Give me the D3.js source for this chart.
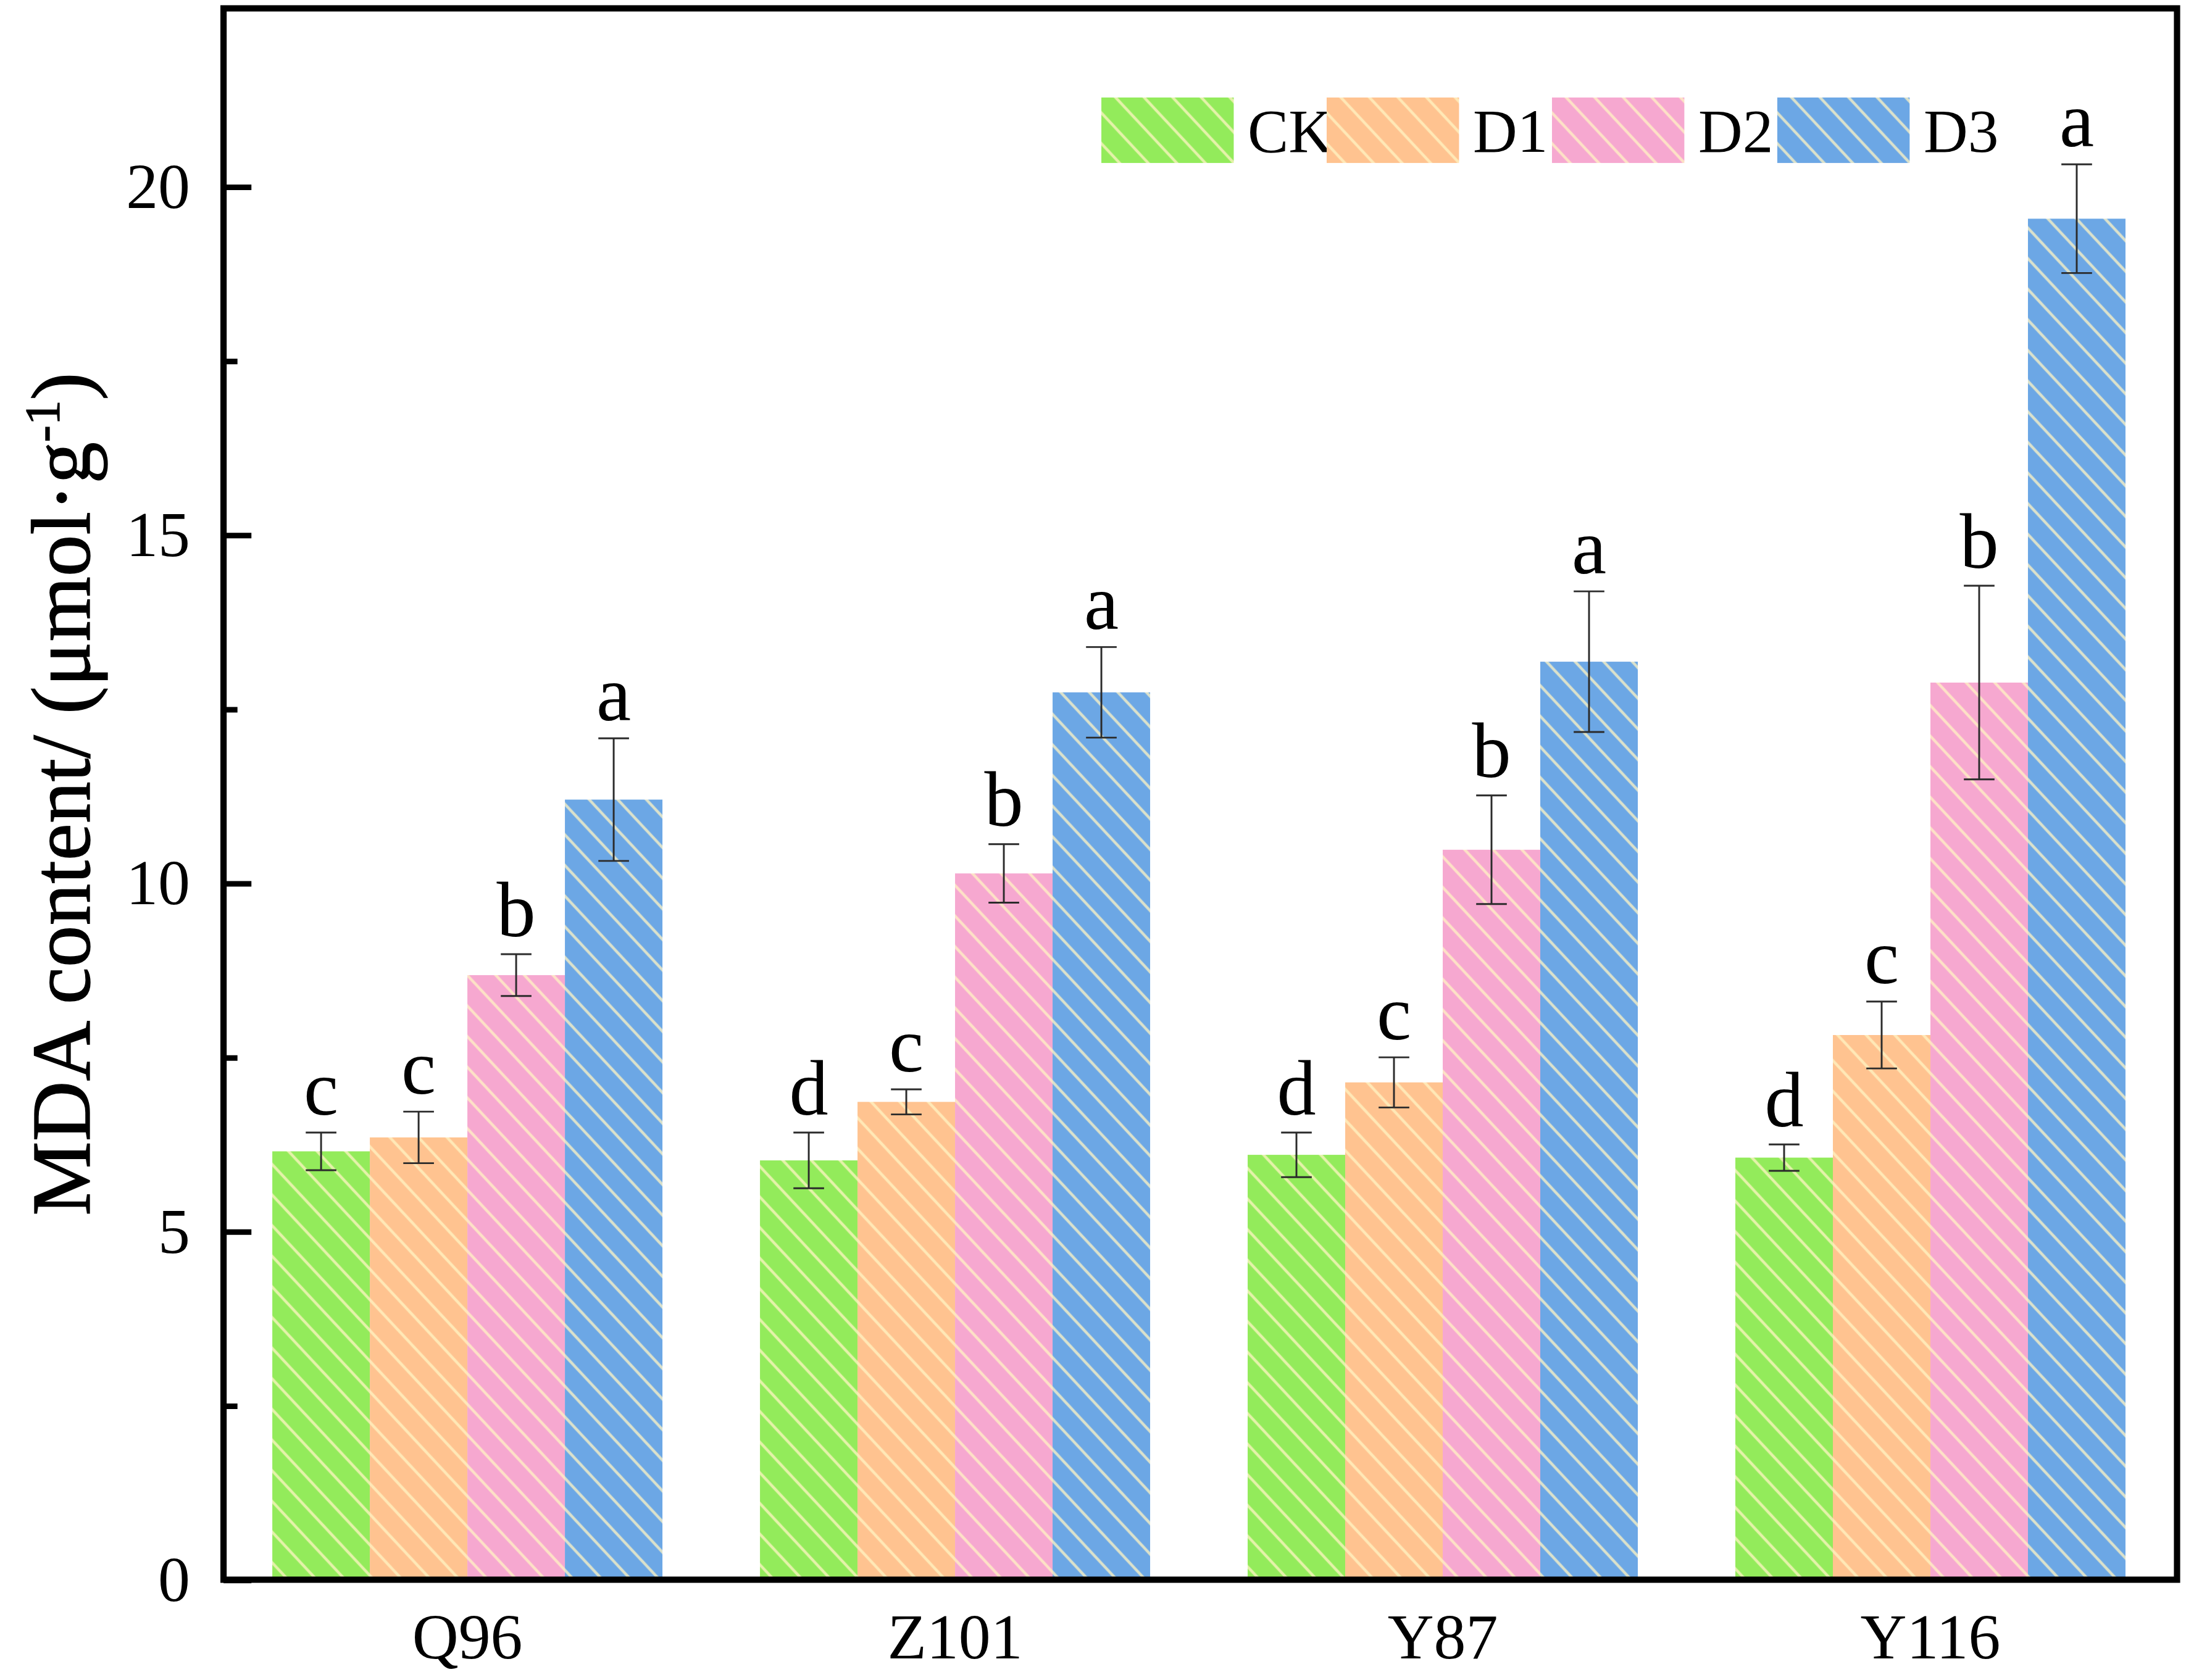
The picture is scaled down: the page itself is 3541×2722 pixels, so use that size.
<!DOCTYPE html>
<html lang="en">
<head>
    <meta charset="UTF-8">
    <title>MDA content</title>
    <script src="https://cdn.jsdelivr.net/npm/d3@7"></script>
    <style>
        body { margin: 0; background: #fff; }
        svg { display: block; }
    </style>
</head>
<body>
<script>
    // data
    let groups = ["Q96", "Z101", "Y87", "Y116"];
    let treatments = ["CK", "D1", "D2", "D3"];
    let meanCK = [6.15, 6.02, 6.10, 6.06];
    let meanD1 = [6.35, 6.86, 7.14, 7.82];
    let meanD2 = [8.68, 10.14, 10.48, 12.88];
    let meanD3 = [11.20, 12.74, 13.18, 19.54];
    let errCK = [0.27, 0.40, 0.32, 0.19];
    let errD1 = [0.37, 0.18, 0.36, 0.48];
    let errD2 = [0.30, 0.42, 0.78, 1.39];
    let errD3 = [0.88, 0.65, 1.01, 0.78];
    let letterCK = ["c", "d", "d", "d"];
    let letterD1 = ["c", "c", "c", "c"];
    let letterD2 = ["b", "b", "b", "b"];
    let letterD3 = ["a", "a", "a", "a"];
    let majorTicks = [0, 5, 10, 15, 20];
    let minorTicks = [2.5, 7.5, 12.5, 17.5];

    let colors = {CK: "#93eb5b", D1: "#ffc390", D2: "#f6a8d0", D3: "#6ca7e5"};

    let means = [meanCK, meanD1, meanD2, meanD3];
    let errs = [errCK, errD1, errD2, errD3];
    let letters = [letterCK, letterD1, letterD2, letterD3];

    // flat table for the bars
    let rows = [];
    groups.forEach(function (g, gi) {
        treatments.forEach(function (t, ti) {
            rows.push({group: g, trt: t, v: means[ti][gi], e: errs[ti][gi], l: letters[ti][gi]});
        });
    });

    let W = 1568, H = 1206;
    let mLeft = 160, mRight = 1562, mTop = 6, mBottom = 1134;
    let font = "'Liberation Serif', 'Times New Roman', serif";

    let svg = d3.select('body').append('svg')
        .attr('width', 3541)
        .attr('height', 2722)
        .attr('viewBox', "0 0 " + W + " " + H);

    // hatch patterns
    let defs = svg.append('defs');
    treatments.forEach(function (t) {
        let p = defs.append('pattern')
            .attr('id', 'hatch-' + t)
            .attr('patternUnits', 'userSpaceOnUse')
            .attr('width', 10)
            .attr('height', 15)
            .attr('patternTransform', 'rotate(47)');
        p.append('rect').attr('width', 10).attr('height', 15).attr('fill', colors[t]);
        p.append('line')
            .attr('x1', -1).attr('x2', 11)
            .attr('y1', 7.5).attr('y2', 7.5)
            .attr('stroke', '#fff4c2')
            .attr('stroke-opacity', 0.75)
            .attr('stroke-width', 2);
    });

    let x0 = d3.scaleBand()
        .domain(groups)
        .range([mLeft, 1560])
        .paddingInner(0.2)
        .paddingOuter(0.1);
    let x1 = d3.scaleBand()
        .domain(treatments)
        .range([0, x0.bandwidth()]);
    let y = d3.scaleLinear()
        .domain([0, 22.56])
        .range([mBottom, mTop]);

    // bars
    svg.append('g').selectAll('rect').data(rows)
        .enter()
        .append('rect')
        .attr('x', function (d) { return x0(d.group) + x1(d.trt); })
        .attr('y', function (d) { return y(d.v); })
        .attr('width', x1.bandwidth())
        .attr('height', function (d) { return y(0) - y(d.v); })
        .attr('fill', function (d) { return 'url(#hatch-' + d.trt + ')'; });

    // error bars
    let eb = svg.append('g')
        .attr('stroke', '#2b2b2b')
        .attr('stroke-width', 1.3);
    let cx = function (d) { return x0(d.group) + x1(d.trt) + x1.bandwidth() / 2; };
    eb.selectAll('line.v').data(rows).enter().append('line')
        .attr('x1', cx).attr('x2', cx)
        .attr('y1', function (d) { return y(d.v + d.e); })
        .attr('y2', function (d) { return y(d.v - d.e); });
    eb.selectAll('line.t').data(rows).enter().append('line')
        .attr('x1', function (d) { return cx(d) - 11; })
        .attr('x2', function (d) { return cx(d) + 11; })
        .attr('y1', function (d) { return y(d.v + d.e); })
        .attr('y2', function (d) { return y(d.v + d.e); });
    eb.selectAll('line.b').data(rows).enter().append('line')
        .attr('x1', function (d) { return cx(d) - 11; })
        .attr('x2', function (d) { return cx(d) + 11; })
        .attr('y1', function (d) { return y(d.v - d.e); })
        .attr('y2', function (d) { return y(d.v - d.e); });

    // significance letters
    svg.append('g').selectAll('text').data(rows)
        .enter()
        .append('text')
        .attr('x', cx)
        .attr('y', function (d) { return y(d.v + d.e) - 13; })
        .attr('text-anchor', 'middle')
        .style('font-family', font)
        .style('font-size', '56px')
        .text(function (d) { return d.l; });

    // y axis, ticks pointing inwards
    let yAxis = svg.append('g')
        .attr('transform', 'translate(' + mLeft + ',0)')
        .call(d3.axisLeft(y).tickValues(majorTicks).tickSize(-20).tickPadding(24));
    yAxis.select('.domain').remove();
    yAxis.selectAll('line').attr('stroke', '#000').attr('stroke-width', 4);
    yAxis.selectAll('text').style('font-family', font).style('font-size', '46px').attr('fill', '#000');

    let yMinor = svg.append('g')
        .attr('transform', 'translate(' + mLeft + ',0)')
        .call(d3.axisLeft(y).tickValues(minorTicks).tickSize(-10).tickFormat(''));
    yMinor.select('.domain').remove();
    yMinor.selectAll('line').attr('stroke', '#000').attr('stroke-width', 4);

    // x axis labels
    let xAxis = svg.append('g')
        .attr('transform', 'translate(0,' + mBottom + ')')
        .call(d3.axisBottom(x0).tickSize(0).tickPadding(24));
    xAxis.select('.domain').remove();
    xAxis.selectAll('text').style('font-family', font).style('font-size', '46px').attr('fill', '#000');

    // frame
    svg.append('rect')
        .attr('x', mLeft).attr('y', mTop)
        .attr('width', mRight - mLeft).attr('height', mBottom - mTop)
        .attr('fill', 'none')
        .attr('stroke', '#000')
        .attr('stroke-width', 4.5);

    // y title
    let title = svg.append('text')
        .attr('transform', 'translate(64,570) rotate(-90)')
        .attr('text-anchor', 'middle')
        .style('font-family', font)
        .style('font-size', '60px')
        .attr('stroke', '#000')
        .attr('stroke-width', 0.6);
    title.append('tspan').text('MDA content/ (μmol·g');
    title.append('tspan').attr('dy', -22).style('font-size', '36px').text('-1');
    title.append('tspan').attr('dy', 22).text(')');

    // legend
    let legend = svg.append('g').selectAll('g').data(treatments)
        .enter()
        .append('g')
        .attr('transform', function (d, i) { return 'translate(' + (790 + i * 161.7) + ',70)'; });
    legend.append('rect')
        .attr('width', 95).attr('height', 47)
        .attr('fill', function (d) { return 'url(#hatch-' + d + ')'; });
    legend.append('text')
        .attr('x', 105).attr('y', 39)
        .style('font-family', font)
        .style('font-size', '44px')
        .text(function (d) { return d; });
</script>
</body>
</html>
